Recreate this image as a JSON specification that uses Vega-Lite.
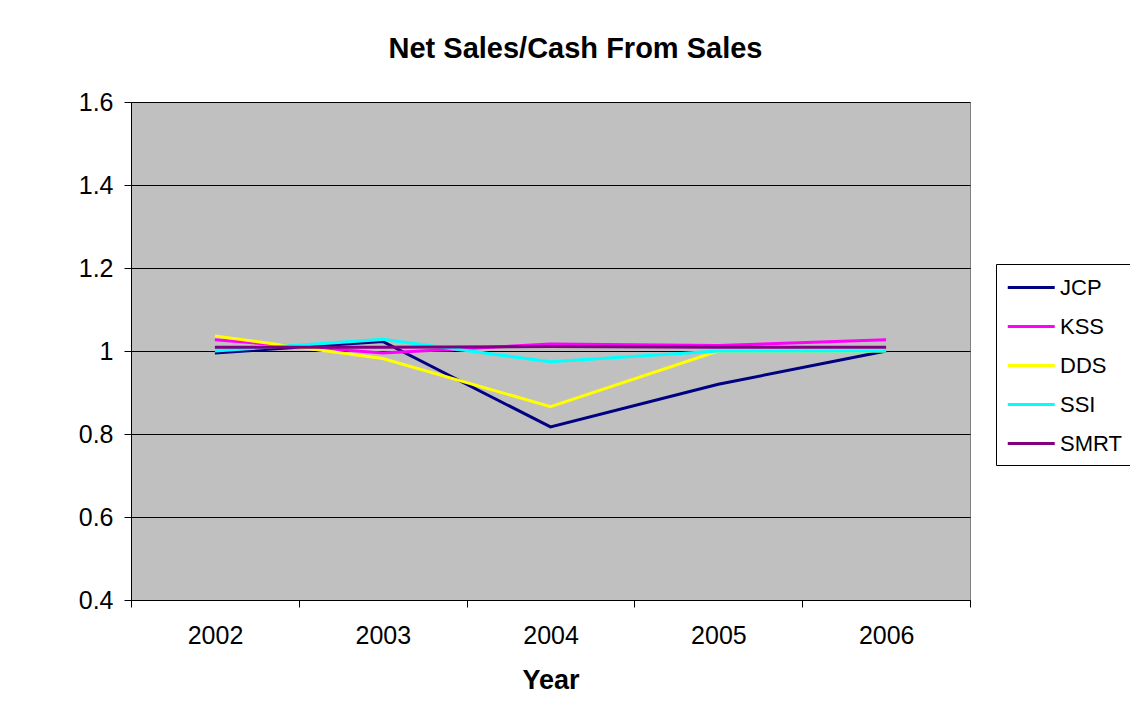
{
  "$schema": "https://vega.github.io/schema/vega-lite/v6.json",
  "autosize": "none",
  "width": 839,
  "height": 498,
  "padding": {"left": 131, "top": 102, "right": 160, "bottom": 121},
  "background": "white",
  "title": {
    "text": "Net Sales/Cash From Sales",
    "font": "Liberation Sans",
    "fontSize": 29,
    "fontWeight": "bold",
    "color": "black",
    "anchor": "middle",
    "dx": 25,
    "offset": 26
  },
  "config": {
    "view": {"fill": "#C0C0C0", "stroke": "#808080", "strokeWidth": 1},
    "axis": {"labelFont": "Liberation Sans", "titleFont": "Liberation Sans", "labelColor": "black", "titleColor": "black", "domainColor": "black", "tickColor": "black"}
  },
  "data": {
    "values": [
      {"Year": 2002, "Company": "JCP", "Value": 0.995},
      {"Year": 2003, "Company": "JCP", "Value": 1.023},
      {"Year": 2004, "Company": "JCP", "Value": 0.817},
      {"Year": 2005, "Company": "JCP", "Value": 0.92},
      {"Year": 2006, "Company": "JCP", "Value": 1.0},
      {"Year": 2002, "Company": "KSS", "Value": 1.027},
      {"Year": 2003, "Company": "KSS", "Value": 0.995},
      {"Year": 2004, "Company": "KSS", "Value": 1.017},
      {"Year": 2005, "Company": "KSS", "Value": 1.013},
      {"Year": 2006, "Company": "KSS", "Value": 1.027},
      {"Year": 2002, "Company": "DDS", "Value": 1.036},
      {"Year": 2003, "Company": "DDS", "Value": 0.982},
      {"Year": 2004, "Company": "DDS", "Value": 0.866},
      {"Year": 2005, "Company": "DDS", "Value": 1.0},
      {"Year": 2006, "Company": "DDS", "Value": 1.0},
      {"Year": 2002, "Company": "SSI", "Value": 1.0},
      {"Year": 2003, "Company": "SSI", "Value": 1.028},
      {"Year": 2004, "Company": "SSI", "Value": 0.974},
      {"Year": 2005, "Company": "SSI", "Value": 1.0},
      {"Year": 2006, "Company": "SSI", "Value": 1.0},
      {"Year": 2002, "Company": "SMRT", "Value": 1.009},
      {"Year": 2003, "Company": "SMRT", "Value": 1.009},
      {"Year": 2004, "Company": "SMRT", "Value": 1.011},
      {"Year": 2005, "Company": "SMRT", "Value": 1.009},
      {"Year": 2006, "Company": "SMRT", "Value": 1.009}
    ]
  },
  "mark": {"type": "line", "strokeWidth": 3, "clip": true},
  "encoding": {
    "x": {
      "field": "Year",
      "type": "quantitative",
      "scale": {"domain": [2001.5, 2006.5], "nice": false, "zero": false},
      "axis": {
        "title": "Year",
        "titleFontSize": 27,
        "titleFontWeight": "bold",
        "titlePadding": 19,
        "values": [2001.5, 2002.5, 2003.5, 2004.5, 2005.5, 2006.5],
        "labelExpr": "datum.value > 2006 ? '' : format(datum.value + 0.5, 'd')",
        "labelOffset": 84,
        "labelFontSize": 25,
        "labelPadding": 16,
        "labelFlush": false,
        "labelOverlap": false,
        "tickSize": 7,
        "grid": false
      }
    },
    "y": {
      "field": "Value",
      "type": "quantitative",
      "scale": {"domain": [0.4, 1.6], "nice": false, "zero": false},
      "axis": {
        "title": null,
        "values": [0.4, 0.6, 0.8, 1.0, 1.2, 1.4, 1.6],
        "labelExpr": "format(datum.value, '.2~f')",
        "labelFontSize": 25,
        "labelPadding": 11,
        "tickSize": 7,
        "grid": true,
        "gridColor": "black",
        "gridOpacity": 1,
        "gridWidth": 1
      }
    },
    "color": {
      "field": "Company",
      "type": "nominal",
      "sort": ["JCP", "KSS", "DDS", "SSI", "SMRT"],
      "scale": {"domain": ["JCP", "KSS", "DDS", "SSI", "SMRT"], "range": ["#000080", "#FF00FF", "#FFFF00", "#00FFFF", "#800080"]},
      "legend": {
        "title": null,
        "orient": "none",
        "legendX": 865,
        "legendY": 162,
        "symbolType": "M-1,0H3",
        "symbolSize": 552,
        "symbolStrokeWidth": 3,
        "labelFont": "Liberation Sans",
        "labelFontSize": 22,
        "labelColor": "black",
        "labelOffset": 27,
        "rowPadding": 14,
        "padding": 10,
        "strokeColor": "black",
        "fillColor": "white"
      }
    }
  }
}
